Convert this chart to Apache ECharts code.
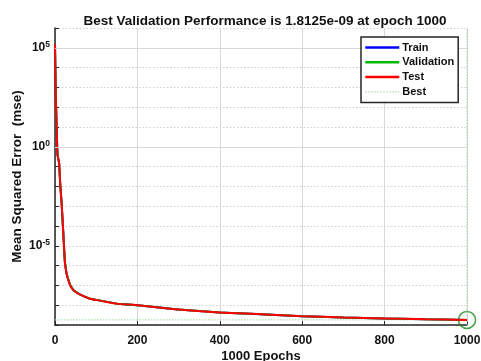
<!DOCTYPE html>
<html>
<head>
<meta charset="utf-8">
<script src="https://cdn.jsdelivr.net/npm/echarts@6/dist/echarts.min.js"></script>
<style>
  html, body { margin: 0; padding: 0; background: #fff; }
  #chart { width: 481px; height: 361px; }
</style>
</head>
<body>
<div id="chart"></div>
<script>
// epochs and mse
var epochs = [0, 2, 4, 6, 10, 13, 16, 20, 24, 28, 36, 45, 60, 85, 110, 150, 200, 300, 400, 500, 600, 700, 800, 900, 1000];
var testMse = [1.5e5, 3e2, 10, 0.4, 0.15, 1e-2, 1.5e-3, 5e-5, 1.5e-6, 4e-7, 1.1e-7, 5.6e-8, 3.5e-8, 2.1e-8, 1.7e-8, 1.2e-8, 1e-8, 6e-9, 4.3e-9, 3.5e-9, 2.8e-9, 2.4e-9, 2.15e-9, 1.95e-9, 1.8125e-9];
var trainMse = testMse;
var validMse = testMse;
var bestEpoch = 1000;
var bestPerf = 1.8125e-9;
var majorTicks = [1e5, 1, 1e-5];
var legendNames = ['Train', 'Validation', 'Test', 'Best'];
var lineColors = { Train: '#0000ff', Validation: '#00bb00', Test: '#ff0000', Best: '#9ad89a' };

function pairs(xs, ys) {
  return xs.map(function (x, i) { return [x, ys[i]]; });
}

var font = 'Liberation Sans';
var ink = '#262626';

var myChart = echarts.init(document.getElementById('chart'));
myChart.setOption({
  animation: false,
  title: {
    text: 'Best Validation Performance is 1.8125e-09 at epoch 1000',
    left: 260, top: 9, textAlign: 'center',
    textStyle: { fontFamily: font, fontSize: 13.5, fontWeight: 'bold', color: '#111' }
  },
  grid: { left: 55, right: 14, top: 28, bottom: 36, containLabel: false, outerBoundsMode: 'none' },
  legend: {
    z: 20,
    data: legendNames.map(function (n) {
      var best = n === 'Best';
      return {
        name: n,
        lineStyle: { color: lineColors[n], width: best ? 1 : 2.5, type: best ? [1.5, 1.5] : 'solid', opacity: 1 }
      };
    }),
    orient: 'vertical',
    left: 361, top: 37,
    itemWidth: 34, itemHeight: 11, itemGap: 3.8,
    padding: [5, 4, 5, 3],
    itemStyle: { opacity: 0 },
    borderColor: ink, borderWidth: 1.5, backgroundColor: '#fff',
    textStyle: { fontFamily: font, fontSize: 11, fontWeight: 'bold', color: '#111', padding: [0, 0, 0, -2] }
  },
  xAxis: {
    type: 'value', min: 0, max: 1000, interval: 200,
    name: '1000 Epochs', nameLocation: 'middle', nameGap: 25, nameMoveOverlap: false,
    nameTextStyle: { fontFamily: font, fontSize: 13, fontWeight: 'bold', color: '#111' },
    axisLine: { lineStyle: { color: ink, width: 1.5 } },
    axisTick: { inside: true, length: 4, lineStyle: { color: ink } },
    axisLabel: {
      fontFamily: font, fontSize: 12, fontWeight: 'bold', color: '#111', margin: 10,
      formatter: function (v) { return String(v); }
    },
    splitLine: { show: true, lineStyle: { color: '#d8d8d8', width: 1 } }
  },
  yAxis: {
    type: 'log', logBase: 10, min: 1e-9, max: 1e6, interval: 1,
    name: 'Mean Squared Error  (mse)', nameLocation: 'middle', nameGap: 31, nameRotate: 90,
    nameMoveOverlap: false,
    nameTextStyle: { fontFamily: font, fontSize: 13.5, fontWeight: 'bold', color: '#111' },
    axisLine: { show: true, lineStyle: { color: ink, width: 1.5 } },
    axisTick: { inside: true, length: 4, lineStyle: { color: ink } },
    axisLabel: {
      margin: 5,
      formatter: function (v) {
        var e = Math.round(Math.log10(v));
        if (e % 5 !== 0 || e > 5 || e < -5) return '';
        return '{b|10}{s|' + e + '}';
      },
      rich: {
        b: { fontFamily: font, fontSize: 12, fontWeight: 'bold', color: '#111' },
        s: { fontFamily: font, fontSize: 8.5, fontWeight: 'bold', color: '#111', padding: [0, 0, 7, 0] }
      }
    },
    splitLine: { show: true, lineStyle: { color: '#cfcfcf', width: 1, type: [1.5, 2] } }
  },
  series: [
    {
      name: 'Best', type: 'line', symbol: 'none', silent: true,
      data: [[0, bestPerf], [bestEpoch, bestPerf]],
      lineStyle: { color: lineColors.Best, width: 1, type: [1.5, 1.5] },
      itemStyle: { color: lineColors.Best },
      markLine: {
        silent: true, symbol: 'none', label: { show: false },
        lineStyle: { color: '#d8d8d8', width: 1, type: 'solid' },
        data: majorTicks.map(function (t) { return { yAxis: t }; })
      }
    },
    {
      name: 'BestEpoch', type: 'line', symbol: 'none', silent: true,
      data: [[bestEpoch, 1e-9], [bestEpoch, 1e6]],
      lineStyle: { color: lineColors.Best, width: 1, type: [1.5, 1.5] }
    },
    {
      name: 'Train', type: 'line', symbol: 'none', data: pairs(epochs, trainMse),
      lineStyle: { color: lineColors.Train, width: 2 }, itemStyle: { color: lineColors.Train }
    },
    {
      name: 'Validation', type: 'line', symbol: 'none', data: pairs(epochs, validMse),
      lineStyle: { color: lineColors.Validation, width: 2 }, itemStyle: { color: lineColors.Validation }
    },
    {
      name: 'Test', type: 'line', symbol: 'none', smooth: 0.3, data: pairs(epochs, testMse),
      lineStyle: { color: lineColors.Test, width: 2 }, itemStyle: { color: lineColors.Test }
    },
    {
      name: 'BestPoint', type: 'scatter', data: [[bestEpoch, bestPerf]],
      symbol: 'circle', symbolSize: 17, silent: true,
      itemStyle: { color: 'rgba(0,0,0,0)', borderColor: '#1a8c1a', borderWidth: 1.5 }
    }
  ]
});
</script>
</body>
</html>
